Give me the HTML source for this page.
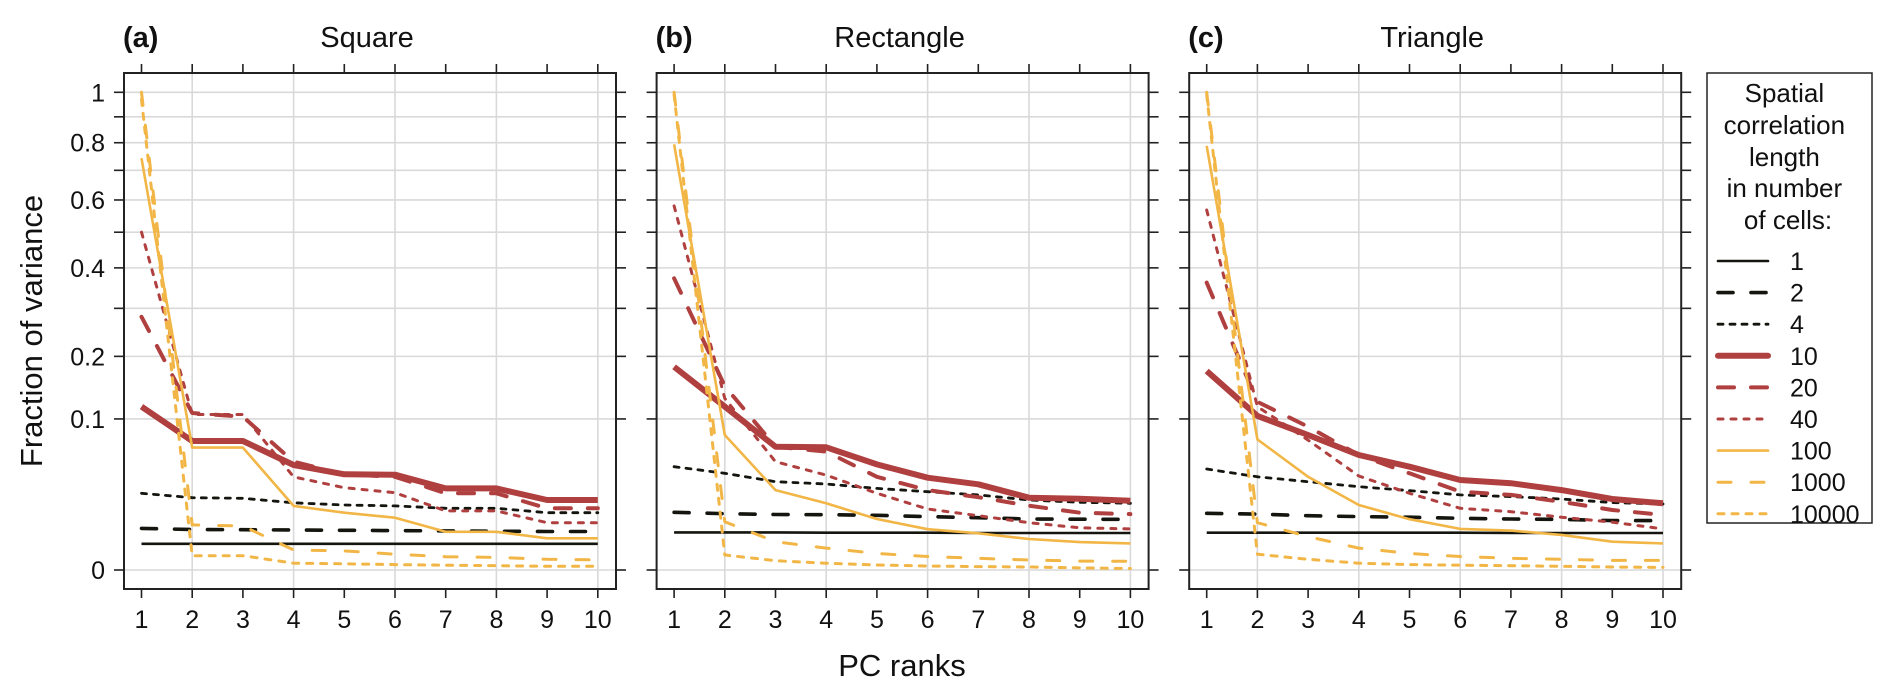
<!DOCTYPE html>
<html>
<head>
<meta charset="utf-8">
<style>
  html,body{margin:0;padding:0;background:#fff;}
  svg{display:block;font-family:"Liberation Sans",Arial,sans-serif;}
</style>
</head>
<body>
<svg id="chart" width="1892" height="696" viewBox="0 0 1892 696" xmlns="http://www.w3.org/2000/svg">
  <text x="0" y="0" transform="translate(42,331) rotate(-90)" text-anchor="middle" font-size="31" fill="#111">Fraction of variance</text>
  <text x="902" y="676" text-anchor="middle" font-size="31" fill="#111">PC ranks</text>
  <g>
    <rect x="1707" y="73" width="165" height="450" fill="#fff" stroke="#222" stroke-width="1.5"/>
    <text text-anchor="middle" font-size="26" fill="#111">
      <tspan x="1788" y="102">Spatial</tspan>
      <tspan x="1788" y="134">correlation</tspan>
      <tspan x="1788" y="166">length</tspan>
      <tspan x="1788" y="197">in number</tspan>
      <tspan x="1788" y="229">of cells:</tspan>
    </text>
    <g id="legend-entries"></g>
  </g>
</svg>
<script>
// ---- data ----
const ranks = [1,2,3,4,5,6,7,8,9,10];
const yTickValues = [0,0.1,0.2,0.4,0.6,0.8,1];
const yTickLabels = ["0","0.1","0.2","0.4","0.6","0.8","1"];
const yGridValues = [0,0.1,0.2,0.3,0.4,0.5,0.6,0.7,0.8,0.9,1];
const seriesNames = ["1","2","4","10","20","40","100","1000","10000"];
const panelTitles = ["Square","Rectangle","Triangle"];
const panelLetters = ["(a)","(b)","(c)"];

const squareL1 = [0.003,0.003,0.003,0.003,0.003,0.003,0.003,0.003,0.003,0.003];
const squareL2 = [0.0076,0.0072,0.0071,0.007,0.0069,0.0068,0.0067,0.0066,0.0065,0.0065];
const squareL4 = [0.0258,0.0229,0.0225,0.0198,0.0185,0.018,0.0167,0.0167,0.0144,0.0144];
const squareL10 = [0.117,0.0729,0.0729,0.0483,0.0401,0.0398,0.0292,0.0292,0.0215,0.0215];
const squareL20 = [0.281,0.108,0.103,0.0514,0.0401,0.0381,0.0258,0.0258,0.0167,0.0167];
const squareL40 = [0.5,0.106,0.106,0.038,0.0297,0.0262,0.0153,0.0153,0.0098,0.0098];
const squareL100 = [0.743,0.0656,0.0656,0.018,0.0144,0.012,0.0064,0.0064,0.0044,0.0044];
const squareL1000 = [1.0,0.0089,0.0085,0.00175,0.0016,0.0011,0.00078,0.0007,0.0005,0.00045];
const squareL10000 = [0.97,0.0009,0.0009,0.0002,0.00017,0.00013,0.0001,0.00008,0.00006,0.00006];

const rectL1 = [0.0062,0.0062,0.0062,0.0061,0.0061,0.0061,0.006,0.006,0.006,0.006];
const rectL2 = [0.0146,0.0139,0.0135,0.0134,0.0131,0.0125,0.012,0.0114,0.0113,0.0112];
const rectL4 = [0.0468,0.041,0.0342,0.0324,0.0292,0.0269,0.0247,0.0215,0.0201,0.0195];
const rectL10 = [0.181,0.117,0.0666,0.066,0.0489,0.0373,0.0322,0.0229,0.0222,0.021];
const rectL20 = [0.373,0.148,0.0666,0.0614,0.0381,0.028,0.0232,0.0181,0.0144,0.0137];
const rectL40 = [0.581,0.129,0.0514,0.0395,0.0258,0.0163,0.0129,0.0098,0.0078,0.0074];
const rectL100 = [0.794,0.0799,0.028,0.0195,0.0114,0.0073,0.0059,0.0042,0.0034,0.0031];
const rectL1000 = [1.0,0.0102,0.0035,0.0021,0.0012,0.0008,0.0006,0.00044,0.00035,0.00033];
const rectL10000 = [0.99,0.00099,0.00038,0.0002,0.00011,0.00007,0.00005,0.00004,0.00002,0.00001];

const triL1 = [0.0061,0.0061,0.0061,0.0061,0.0061,0.0061,0.006,0.006,0.006,0.006];
const triL2 = [0.0141,0.0137,0.0129,0.0125,0.0122,0.0117,0.0114,0.0112,0.0107,0.0107];
const triL4 = [0.0447,0.0381,0.0342,0.0304,0.0276,0.0247,0.0236,0.0221,0.0199,0.0191];
const triL10 = [0.1735,0.104,0.0799,0.058,0.0468,0.0355,0.033,0.028,0.0221,0.0195];
const triL20 = [0.362,0.124,0.09,0.058,0.041,0.0269,0.0247,0.0204,0.0158,0.0133];
const triL40 = [0.568,0.117,0.074,0.0387,0.0258,0.0167,0.0149,0.0122,0.01,0.0074];
const triL100 = [0.788,0.0748,0.0381,0.0185,0.0113,0.0074,0.0068,0.0054,0.0035,0.0031];
const triL1000 = [1.0,0.0098,0.0049,0.0021,0.0012,0.0008,0.0006,0.0005,0.0004,0.0004];
const triL10000 = [0.99,0.0011,0.0005,0.0002,0.00013,0.0001,0.00008,0.00006,0.00004,0.00003];

const panelSeries = [
  [squareL1,squareL2,squareL4,squareL10,squareL20,squareL40,squareL100,squareL1000,squareL10000],
  [rectL1,rectL2,rectL4,rectL10,rectL20,rectL40,rectL100,rectL1000,rectL10000],
  [triL1,triL2,triL4,triL10,triL20,triL40,triL100,triL1000,triL10000]
];

// ---- styles ----
const BLK="#15150f", RED="#b0403f", ORG="#f2b646";
const styles = [
  {c:BLK,w:2.6,d:""},
  {c:BLK,w:3.6,d:"15 18"},
  {c:BLK,w:2.8,d:"5 7"},
  {c:RED,w:6,d:""},
  {c:RED,w:4,d:"16 17"},
  {c:RED,w:3,d:"5 8"},
  {c:ORG,w:2.6,d:""},
  {c:ORG,w:3,d:"13 20"},
  {c:ORG,w:3,d:"6 8"}
];

const NS="http://www.w3.org/2000/svg";
const svg=document.getElementById("chart");
function mk(tag,attrs,parent){const e=document.createElementNS(NS,tag);for(const k in attrs)e.setAttribute(k,attrs[k]);(parent||svg).appendChild(e);return e;}

const PANEL_W=492, TOP=73, BOTTOM=589, OFFSET=532.6, LEFT0=124;
const Y0=570, YSCALE=477.7;
function yScale(v){return Y0-Math.sqrt(Math.max(v,0))*YSCALE;}
function xScale(p,r){return LEFT0+OFFSET*p+17.5+(r-1)*50.7;}

for(let p=0;p<3;p++){
  const L=LEFT0+OFFSET*p, R=L+PANEL_W;
  const g=mk("g",{});
  
  
  // gridlines
  yGridValues.forEach(v=>{
    const y=yScale(v);
    const ln=mk("line",{x1:L,x2:R,y1:y,y2:y,stroke:"#d9d9d9","stroke-width":1.6},g);
    
    
    mk("line",{x1:L-10,x2:L,y1:y,y2:y,stroke:"#222","stroke-width":1.6},g);
    mk("line",{x1:R,x2:R+10,y1:y,y2:y,stroke:"#222","stroke-width":1.6},g);
  });
  ranks.forEach(r=>{
    const x=xScale(p,r);
    if(r%2===0){
      const ln=mk("line",{x1:x,x2:x,y1:TOP,y2:BOTTOM,stroke:"#d9d9d9","stroke-width":1.6},g);
      
      
    }
    mk("line",{x1:x,x2:x,y1:TOP-9,y2:TOP,stroke:"#222","stroke-width":1.6},g);
    mk("line",{x1:x,x2:x,y1:BOTTOM,y2:BOTTOM+9,stroke:"#222","stroke-width":1.6},g);
    const t=mk("text",{x:x,y:628,"text-anchor":"middle","font-size":25,fill:"#111"},g);
    
    
    t.textContent=String(r);
  });
  if(p===0){
    yTickValues.forEach((v,i)=>{
      const t=mk("text",{x:105,y:yScale(v)+9,"text-anchor":"end","font-size":25,fill:"#111"},g);
      
      
      t.textContent=yTickLabels[i];
    });
  }
  // series
  panelSeries[p].forEach((vals,si)=>{
    const s=styles[si];
    const pts=vals.map((v,i)=>xScale(p,ranks[i]).toFixed(1)+","+yScale(v).toFixed(1)).join(" ");
    const pl=mk("polyline",{points:pts,fill:"none",stroke:s.c,"stroke-width":s.w,"stroke-linejoin":"round","stroke-linecap":s.d?"round":"butt"},g);
    if(s.d) pl.setAttribute("stroke-dasharray",s.d);
    
    
  });
  const border=mk("rect",{x:L,y:TOP,width:PANEL_W,height:BOTTOM-TOP,fill:"none",stroke:"#222","stroke-width":2},g);
  
  
  const lt=mk("text",{x:L-1,y:47,"font-size":29,"font-weight":"bold",fill:"#111"},g);
  
  
  lt.textContent=panelLetters[p];
  const tt=mk("text",{x:L+PANEL_W/2-3,y:47,"text-anchor":"middle","font-size":29,fill:"#111"},g);
  
  
  tt.textContent=panelTitles[p];
}

// legend
const lg=document.getElementById("legend-entries");
seriesNames.forEach((n,i)=>{
  const y=261+i*31.6, s=styles[i];
  const e=mk("g",{},lg);
  
  
  const ln=mk("line",{x1:1718,x2:1768,y1:y,y2:y,stroke:s.c,"stroke-width":s.w,"stroke-linecap":s.d?"round":"round"},e);
  if(s.d) ln.setAttribute("stroke-dasharray",s.d);
  const t=mk("text",{x:1790,y:y+9,"font-size":25,fill:"#111"},e);
  t.textContent=n;
});
</script>
</body>
</html>
